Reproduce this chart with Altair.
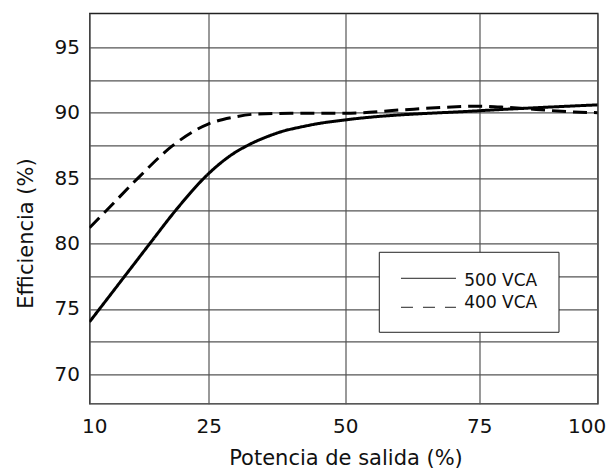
import altair as alt
import pandas as pd

# ---- data ----
series_names = ["500 VCA", "400 VCA"]

x_500 = [10, 14.75, 17.6, 20.8, 25, 28.9, 32.6, 35.6, 38.7, 41.8, 44.8, 50, 75, 100]
y_500 = [74.0, 77.75, 80.0, 82.5, 85.35, 86.7, 87.6, 88.15, 88.6, 88.9, 89.15, 89.45, 90.15, 90.6]

x_400 = [10, 12.1, 16.1, 20.5, 25, 29.5, 33.8, 40, 50, 60, 68, 75, 81, 87, 95, 100]
y_400 = [81.2, 82.5, 85.0, 87.5, 89.15, 89.65, 89.9, 89.95, 89.95, 90.2, 90.4, 90.5, 90.4, 90.25, 90.05, 90.0]

x_ticks = [10, 25, 50, 75, 100]
y_grid = [70, 72.5, 75, 77.5, 80, 82.5, 85, 87.5, 90, 92.5, 95]

FONT = "DejaVu Sans"
W, H = 508.2, 390.4

df = pd.concat([
    pd.DataFrame({"x": x_500, "y": y_500, "serie": series_names[0], "o": range(len(x_500))}),
    pd.DataFrame({"x": x_400, "y": y_400, "serie": series_names[1], "o": range(len(x_400))}),
])

xscale = alt.Scale(domain=x_ticks, range=[0, 119.2, 255.8, 389.8, W])
yscale = alt.Scale(domain=[67.75, 97.6], nice=False, zero=False)

lines = alt.Chart(df).mark_line(interpolate="monotone", strokeWidth=3, color="black", clip=True).encode(
    x=alt.X("x:Q", scale=xscale,
            axis=alt.Axis(values=x_ticks, title="Potencia de salida (%)", grid=True, ticks=False,
                          domain=False, labelFont=FONT, labelFontSize=20, labelColor="#111",
                          labelPadding=13, labelFlush=True, labelFlushOffset=8, labelOverlap=False,
                          titleFont=FONT, titleFontSize=21, titleFontWeight="normal",
                          titleColor="#111", titleBaseline="alphabetic", titleY=61, titleX=256,
                          gridColor="#555", gridWidth=1.2, gridOpacity=1)),
    y=alt.Y("y:Q", scale=yscale,
            axis=alt.Axis(values=y_grid, title="Efficiencia (%)", grid=True, ticks=False,
                          domain=False, labelFont=FONT, labelFontSize=20, labelColor="#111",
                          labelPadding=10,
                          labelExpr="datum.value % 5 == 0 ? datum.label : ''",
                          titleFont=FONT, titleFontSize=21, titleFontWeight="normal",
                          titleColor="#111", titleBaseline="alphabetic", titleX=-57.2, titleY=219.7,
                          titleAngle=270,
                          gridColor="#555", gridWidth=1.2, gridOpacity=1)),
    strokeDash=alt.StrokeDash("serie:N", scale=alt.Scale(domain=series_names, range=[[1, 0], [14, 7]]),
                              legend=None),
    order="o:Q",
)

# ---- manual legend box ----
box = alt.Chart(pd.DataFrame({"a": [0]})).mark_rect(fill="white", stroke="#222", strokeWidth=1).encode(
    x=alt.value(289.8), x2=alt.value(469.5), y=alt.value(239), y2=alt.value(319)
)
leg_solid = alt.Chart(pd.DataFrame({"a": [0]})).mark_rule(color="#222", strokeWidth=1).encode(
    x=alt.value(311.5), x2=alt.value(366.5), y=alt.value(265)
)
leg_dash = alt.Chart(pd.DataFrame({"a": [0]})).mark_rule(color="#222", strokeWidth=1, strokeDash=[12, 10]).encode(
    x=alt.value(311.5), x2=alt.value(366.5), y=alt.value(294)
)
leg_t1 = alt.Chart(pd.DataFrame({"t": [series_names[0]]})).mark_text(
    font=FONT, fontSize=17, color="#111", align="left", baseline="alphabetic").encode(
    text="t:N", x=alt.value(374.8), y=alt.value(272.4))
leg_t2 = alt.Chart(pd.DataFrame({"t": [series_names[1]]})).mark_text(
    font=FONT, fontSize=17, color="#111", align="left", baseline="alphabetic").encode(
    text="t:N", x=alt.value(374.8), y=alt.value(294.4))

chart = alt.layer(lines, box, leg_solid, leg_dash, leg_t1, leg_t2).properties(
    width=W, height=H,
    autosize=alt.AutoSizeParams(type="none"),
    padding={"left": 81.5, "top": 5.3, "right": 8.3, "bottom": 66.9},
    background="white",
).configure_view(stroke="#222", strokeWidth=1.3)

chart.save("out.html", embed_options={"renderer": "svg", "actions": False})
